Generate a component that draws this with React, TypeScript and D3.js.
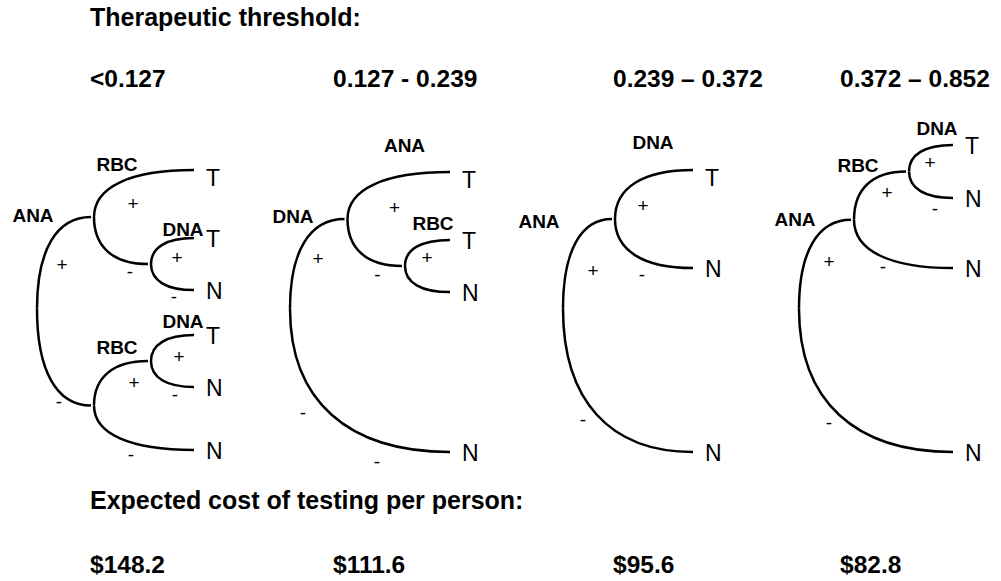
import * as d3 from "d3";

// id, parent id, test or outcome, sign on the branch coming from the parent
type Row = [string, string, string, string];

const thresholds = ["<0.127", "0.127 - 0.239", "0.239 – 0.372", "0.372 – 0.852"];
const costs = [148.2, 111.6, 95.6, 82.8];

const tree1: Row[] = [
  ["ana", "", "ANA", ""],
  ["rbc1", "ana", "RBC", "+"],
  ["t1", "rbc1", "T", "+"],
  ["dna1", "rbc1", "DNA", "-"],
  ["t2", "dna1", "T", "+"],
  ["n1", "dna1", "N", "-"],
  ["rbc2", "ana", "RBC", "-"],
  ["dna2", "rbc2", "DNA", "+"],
  ["t3", "dna2", "T", "+"],
  ["n2", "dna2", "N", "-"],
  ["n3", "rbc2", "N", "-"],
];

const tree2: Row[] = [
  ["dna", "", "DNA", ""],
  ["ana", "dna", "ANA", "+"],
  ["t1", "ana", "T", "+"],
  ["rbc", "ana", "RBC", "-"],
  ["t2", "rbc", "T", "+"],
  ["n1", "rbc", "N", "-"],
  ["n2", "dna", "N", "-"],
];

const tree3: Row[] = [
  ["ana", "", "ANA", ""],
  ["dna", "ana", "DNA", "+"],
  ["t1", "dna", "T", "+"],
  ["n1", "dna", "N", "-"],
  ["n2", "ana", "N", "-"],
];

const tree4: Row[] = [
  ["ana", "", "ANA", ""],
  ["rbc", "ana", "RBC", "+"],
  ["dna", "rbc", "DNA", "+"],
  ["t1", "dna", "T", "+"],
  ["n1", "dna", "N", "-"],
  ["n2", "rbc", "N", "-"],
  ["n3", "ana", "N", "-"],
];

const trees = [tree1, tree2, tree3, tree4];

// ---- layout (kept apart from the data) ----
const width = 1001;
const height = 581;
const panelX = [90, 333, 613, 840];
const font = "'Liberation Sans', Arial, Helvetica, sans-serif";

// vertical position in row units
const y = d3.scaleLinear().domain([0, 12]).range([145, 452]);
const rootRow = 6.4;

type Cfg = {
  rootX: number;
  step: number;
  leafX: number;
  leafRows: number[];
  leafShift: Record<string, number>;
  labelOff: Record<string, [number, number]>;
  signOff: Record<string, [number, number]>;
};

const layouts: Cfg[] = [
  {
    rootX: 37,
    step: 57,
    leafX: 194,
    leafRows: [0.98, 3.64, 5.67, 7.43, 9.46, 11.92],
    leafShift: { t1: 8 },
    labelOff: { ana: [-4, -94], rbc1: [23, -53], dna1: [32, -35], rbc2: [23, -58], dna2: [32, -40] },
    signOff: {
      rbc1: [25, -44], rbc2: [22, 94],
      t1: [39, -14], dna1: [36, 55],
      t2: [26, -7], n1: [23, 33],
      dna2: [40, -23], n3: [37, 50],
      t3: [28, -5], n2: [24, 34],
    },
  },
  {
    rootX: 290,
    step: 57.5,
    leafX: 450,
    leafRows: [1.06, 3.71, 5.75, 12],
    leafShift: { t1: 8 },
    labelOff: { dna: [3, -93], ana: [57, -74], rbc: [28, -43] },
    signOff: {
      ana: [28, -50], n2: [13, 105],
      t1: [47, -12], rbc: [30, 56],
      t2: [22, -9], n1: [-28, 196],
    },
  },
  {
    rootX: 563,
    step: 52,
    leafX: 693,
    leafRows: [0.98, 4.81, 12],
    leafShift: { t1: 8 },
    labelOff: { ana: [-24, -88], dna: [38, -77] },
    signOff: {
      dna: [30, -38], n2: [20, 112],
      t1: [28, -14], n1: [27, 56],
    },
  },
  {
    rootX: 799,
    step: 55,
    leafX: 953,
    leafRows: [0, 2.07, 4.81, 12],
    leafShift: {},
    labelOff: { ana: [-4, -90], rbc: [4, -55], dna: [28, -43] },
    signOff: {
      rbc: [30, -47], n3: [30, 115],
      dna: [33, -27], n2: [29, 48],
      t1: [21, -9], n1: [26, 38],
    },
  },
];

type P = d3.HierarchyNode<Row> & { px: number; py: number };

function build(rows: Row[], cfg: Cfg) {
  const root = d3
    .stratify<Row>()
    .id((d) => d[0])
    .parentId((d) => d[1] || null)(rows) as P;
  const x = d3.scaleLinear().domain([0, 1]).range([cfg.rootX, cfg.rootX + cfg.step]);
  root.leaves().forEach((l, i) => {
    const n = l as P;
    n.px = cfg.leafX;
    n.py = y(cfg.leafRows[i]);
  });
  root.eachAfter((d) => {
    const n = d as P;
    if (!n.children) return;
    n.px = x(n.depth);
    n.py = n.parent
      ? d3.mean(n.children as P[], (c) => c.py)!
      : y(rootRow);
  });
  return root;
}

const k = 0.64;
function arm(px: number, py: number, ex: number, ey: number) {
  const p = d3.path();
  p.moveTo(px, py);
  p.bezierCurveTo(px, py + k * (ey - py), ex - k * (ex - px), ey, ex, ey);
  return p.toString();
}

const Tree = ({ rows, cfg }: { rows: Row[]; cfg: Cfg }) => {
  const root = build(rows, cfg);
  const nodes = root.descendants() as P[];
  const edges = nodes.filter((d) => d.parent);
  return (
    <g>
      {edges.map((c) => {
        const p = c.parent as P;
        const ex = c.children ? c.px - 3 : c.px;
        return (
          <path
            key={"e" + c.id}
            d={arm(p.px, p.py, ex, c.py)}
            fill="none"
            stroke="#000"
            strokeWidth={2.5}
          />
        );
      })}
      {edges.map((c) => {
        const p = c.parent as P;
        const off = cfg.signOff[c.id!] || [20, 0];
        const s = c.data[3];
        return (
          <text
            key={"s" + c.id}
            x={p.px + off[0]}
            y={p.py + off[1]}
            dy={s === "+" ? "0.35em" : "0.29em"}
            textAnchor="middle"
            fontSize={19}
          >
            {s}
          </text>
        );
      })}
      {nodes
        .filter((d) => d.children)
        .map((d) => {
          const off = cfg.labelOff[d.id!] || [0, -20];
          return (
            <text
              key={"n" + d.id}
              x={d.px + off[0]}
              y={d.py + off[1]}
              dy="0.36em"
              textAnchor="middle"
              fontSize={19}
              fontWeight="bold"
            >
              {d.data[2]}
            </text>
          );
        })}
      {nodes
        .filter((d) => !d.children)
        .map((d) => (
          <text
            key={"l" + d.id}
            x={d.px + 12}
            y={d.py + (cfg.leafShift[d.id!] || 1)}
            dy="0.36em"
            fontSize={23}
          >
            {d.data[2]}
          </text>
        ))}
    </g>
  );
};

export default function App() {
  const money = d3.format(".1f");
  return (
    <svg
      width={width}
      height={height}
      viewBox={`0 0 ${width} ${height}`}
      style={{ position: "absolute", left: 0, top: 0, background: "#fff" }}
      fontFamily={font}
    >
      <text x={panelX[0]} y={26} fontSize={25} fontWeight="bold">
        Therapeutic threshold:
      </text>
      {thresholds.map((t, i) => (
        <text key={t} x={panelX[i]} y={87} fontSize={24.5} fontWeight="bold">
          {t}
        </text>
      ))}
      {trees.map((rows, i) => (
        <Tree key={i} rows={rows} cfg={layouts[i]} />
      ))}
      <text x={panelX[0]} y={509} fontSize={25} fontWeight="bold">
        Expected cost of testing per person:
      </text>
      {costs.map((c, i) => (
        <text key={i} x={panelX[i]} y={573} fontSize={24.5} fontWeight="bold">
          {"$" + money(c)}
        </text>
      ))}
    </svg>
  );
}
